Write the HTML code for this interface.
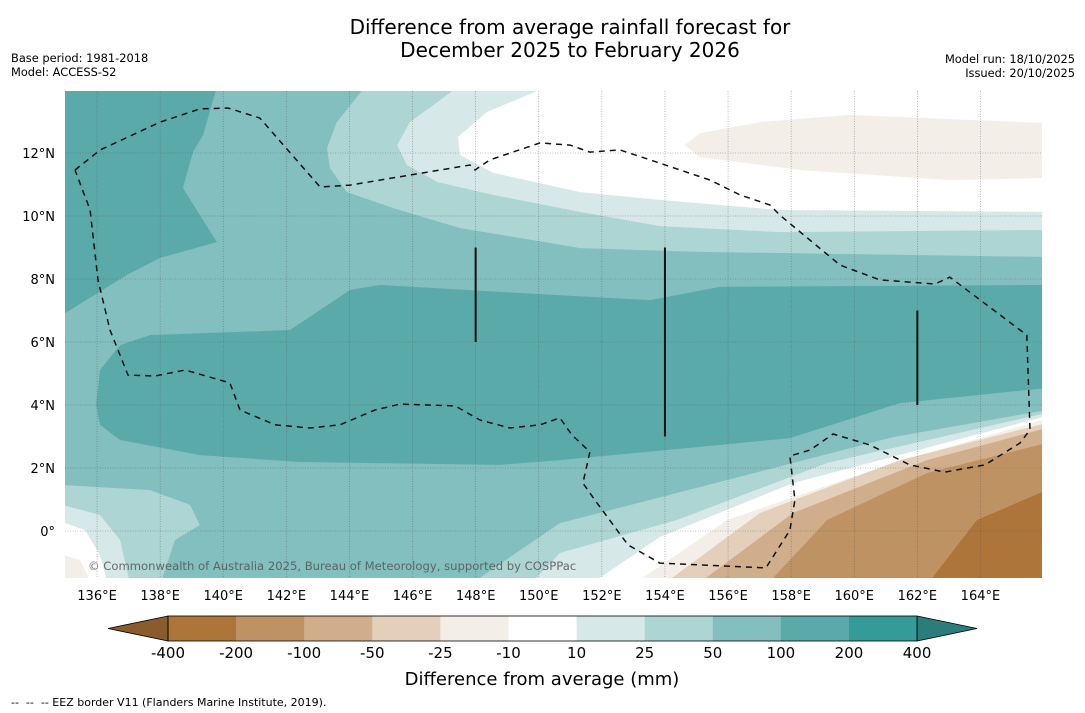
<!DOCTYPE html>
<html><head><meta charset="utf-8">
<style>
html,body{margin:0;padding:0;background:#fff;}
svg{display:block;font-family:"DejaVu Sans","Liberation Sans",sans-serif;}
</style></head>
<body>
<svg id="chart" width="1085" height="713" viewBox="0 0 1085 713">
<rect width="1085" height="713" fill="#fff"/>
<text x="570" y="34" font-size="20" text-anchor="middle" fill="#000">Difference from average rainfall forecast for</text>
<text x="570" y="57" font-size="20" text-anchor="middle" fill="#000">December 2025 to February 2026</text>
<text x="11" y="62" font-size="11.4">Base period: 1981-2018</text>
<text x="11" y="76" font-size="11.4">Model: ACCESS-S2</text>
<text x="1075" y="63" font-size="11.4" text-anchor="end">Model run: 18/10/2025</text>
<text x="1075" y="77" font-size="11.4" text-anchor="end">Issued: 20/10/2025</text>
<defs><clipPath id="mapclip"><rect x="65" y="91" width="977" height="487"/></clipPath></defs>
<g id="map" clip-path="url(#mapclip)"></g>
<g id="axes"></g>
<g id="cbar"></g>
<text x="542" y="685" font-size="18" text-anchor="middle">Difference from average (mm)</text>
<text x="11" y="706" font-size="11" xml:space="preserve">--  --  -- EEZ border V11 (Flanders Marine Institute, 2019).</text>
</svg>
<script>
// ---- data ----
const lonTicks = [136,138,140,142,144,146,148,150,152,154,156,158,160,162,164];
const latTicks = [0,2,4,6,8,10,12];
const levels = [-400,-200,-100,-50,-25,-10,10,25,50,100,200,400];
const levelColors = ["#ad7539","#bf9263","#d1ae8b","#e3cfba","#f3eee8","#ffffff","#d6e9e8","#acd5d4","#83bfbe","#5aaaaa","#349b98"];
const extendColors = ["#8a5c2c","#2a7d7a"];
// contour polygons [lon,lat]
const hiTopLeft = [[134.9,14.1],[139.8,14.1],[139.36,12.57],[139.04,12.03],[138.72,10.89],[139.8,9.17],[138.0,8.67],[136.95,8.13],[134.9,6.86]];
const hiBand = [[135.97,4.0],[136.09,5.11],[136.73,5.9],[137.68,6.22],[142.12,6.38],[144.02,7.65],[144.97,7.81],[148.77,7.59],[153.53,7.33],[155.74,7.75],[166.1,7.81],[166.1,4.54],[161.45,4.06],[157.96,2.95],[155.11,2.67],[150.67,2.25],[148.77,2.1],[142.43,2.19],[139.26,2.41],[136.73,2.89],[136.09,3.37]];
const top25 = [[144.49,14.1],[143.6,12.98],[143.29,12.16],[143.38,11.52],[143.92,10.76],[145.38,10.25],[147.5,9.62],[151.31,8.98],[155.11,8.86],[166.1,8.7],[166.1,14.1]];
const top10 = [[147.44,14.1],[145.92,12.98],[145.51,12.25],[145.82,11.62],[146.78,11.08],[148.55,10.67],[151.31,10.13],[153.84,9.68],[157.64,9.49],[166.1,9.56],[166.1,14.1]];
const topWhite = [[150.26,14.1],[148.36,13.3],[147.44,12.51],[147.5,11.94],[148.55,11.37],[151.31,10.76],[153.84,10.51],[157.64,10.19],[166.1,10.13],[166.1,14.1]];
const topTan = [[154.63,12.25],[155.11,12.63],[157.01,12.98],[159.86,13.21],[166.1,12.95],[166.1,11.21],[163.03,11.14],[158.28,11.46],[155.11,11.87]];
const br25 = [[147.82,-1.7],[150.67,0.25],[155.97,1.62],[161.23,2.98],[166.1,3.84]];
const br10 = [[149.72,-1.7],[150.67,-0.7],[154.38,0.35],[159.14,2.16],[166.1,3.75]];
const brWhite = [[151.62,-1.7],[153.84,-0.19],[158.06,1.52],[166.1,3.65]];
const brM10 = [[152.99,-1.7],[155.97,0.35],[161.23,2.16],[166.1,3.56]];
const brM25 = [[153.94,-1.7],[157.01,0.57],[161.45,2.25],[166.1,3.43]];
const brM50 = [[155.02,-1.7],[158.06,0.57],[162.31,2.25],[166.1,3.27]];
const brM100 = [[157.23,-1.7],[159.14,0.35],[162.31,1.84],[166.1,2.79]];
const brM200 = [[162.31,-1.7],[163.89,0.35],[166.1,1.3]];
const bl25 = [[134.9,1.46],[137.68,1.3],[138.95,0.83],[139.26,0.19],[138.47,-0.29],[138.0,-1.7],[134.9,-1.7]];
const bl10 = [[134.9,0.83],[136.09,0.51],[136.73,-0.29],[137.05,-1.7],[134.9,-1.7]];
const blWhite = [[134.9,0.29],[135.62,0.03],[136.09,-0.76],[136.35,-1.7],[134.9,-1.7]];
const blTan = [[134.9,-0.76],[135.46,-0.92],[135.84,-1.7],[134.9,-1.7]];
const eez = [[135.3,11.46],[136.1,12.1],[138.0,12.98],[139.26,13.4],[140.15,13.43],[141.16,13.11],[143.07,10.92],[144.02,10.98],[147.82,11.62],[147.98,11.46],[148.45,11.78],[150.04,12.32],[150.99,12.25],[151.62,12.03],[152.57,12.1],[153.53,11.78],[155.43,11.14],[156.38,10.67],[157.33,10.35],[157.64,10.03],[159.55,8.44],[160.81,7.97],[162.56,7.84],[163.03,8.06],[165.47,6.22],[165.57,3.21],[165.25,2.79],[164.14,2.1],[162.87,1.87],[161.76,2.1],[160.5,2.73],[159.33,3.08],[158.6,2.57],[157.96,2.38],[158.12,0.98],[157.96,0.03],[157.2,-1.17],[153.84,-1.02],[152.83,-0.44],[151.78,0.98],[151.4,1.52],[151.62,2.51],[151.05,3.05],[150.67,3.59],[150.04,3.37],[149.09,3.27],[148.14,3.52],[147.35,3.97],[145.6,4.03],[144.81,3.84],[143.7,3.37],[142.75,3.27],[141.64,3.37],[140.53,3.84],[140.21,4.7],[138.79,5.11],[137.84,4.92],[136.98,4.95],[136.41,6.38],[136.03,7.97],[135.78,10.19],[135.3,11.46]];
const vlines = [[148,6,9],[154,3,9],[162,4,7]];

// ---- axes functions ----
const X0=65.5, Y0=531, SX=31.55, SY=31.5;
function px(lon){return X0+(lon-135)*SX;}
function py(lat){return Y0-lat*SY;}
const NS="http://www.w3.org/2000/svg";
function mk(tag,attrs,parent){const e=document.createElementNS(NS,tag);for(const k in attrs)e.setAttribute(k,attrs[k]);parent.appendChild(e);return e;}
function ptsStr(arr){return arr.map(p=>px(p[0]).toFixed(1)+","+py(p[1]).toFixed(1)).join(" ");}
const map=document.getElementById("map");
const axes=document.getElementById("axes");
const cbar=document.getElementById("cbar");

let bg=mk("rect",{x:65,y:91,width:977,height:487,fill:levelColors[8]},map);



function poly(arr,ci,name){const p=mk("polygon",{points:ptsStr(arr),fill:levelColors[ci]},map);

}
function brPoly(arr,ci,name){poly(arr.concat([[166.1,-1.7]]),ci,name);}

poly(hiTopLeft,9,"region-100-200-northwest");
poly(hiBand,9,"region-100-200-band");
poly(top25,7,"region-25-50-north");
poly(top10,6,"region-10-25-north");
poly(topWhite,5,"region-neutral-north");
poly(topTan,4,"region-minus10-25-northeast");
poly(bl25,7,"region-25-50-southwest");
poly(bl10,6,"region-10-25-southwest");
poly(blWhite,5,"region-neutral-southwest");
poly(blTan,4,"region-minus10-25-southwest");
brPoly(br25,7,"region-25-50-southeast");
brPoly(br10,6,"region-10-25-southeast");
brPoly(brWhite,5,"region-neutral-southeast");
brPoly(brM10,4,"region-minus10-25-southeast");
brPoly(brM25,3,"region-minus25-50-southeast");
brPoly(brM50,2,"region-minus50-100-southeast");
brPoly(brM100,1,"region-minus100-200-southeast");
brPoly(brM200,0,"region-minus200-400-southeast");

// gridlines
lonTicks.forEach(l=>{const g=mk("line",{x1:px(l),x2:px(l),y1:91,y2:578,stroke:"#555","stroke-width":0.6,"stroke-dasharray":"1,1.5","stroke-opacity":0.7},map);

});
latTicks.forEach(l=>{const g=mk("line",{x1:65,x2:1042,y1:py(l),y2:py(l),stroke:"#555","stroke-width":0.6,"stroke-dasharray":"1,1.5","stroke-opacity":0.7},map);

});

// EEZ
const ez=mk("polyline",{points:ptsStr(eez),fill:"none",stroke:"#111","stroke-width":1.5,"stroke-dasharray":"6,5"},map);


vlines.forEach(v=>{const l=mk("line",{x1:px(v[0]),x2:px(v[0]),y1:py(v[2]),y2:py(v[1]),stroke:"#111","stroke-width":2},map);

});

const cp=mk("text",{x:88,y:570,"font-size":11.6,fill:"#555","fill-opacity":0.85},map);
cp.textContent="© Commonwealth of Australia 2025, Bureau of Meteorology, supported by COSPPac";



// tick labels
lonTicks.forEach(l=>{const t=mk("text",{x:px(l),y:600,"font-size":13,"text-anchor":"middle"},axes);t.textContent=l+"°E";

});
latTicks.forEach(l=>{const t=mk("text",{x:55,y:py(l)+5,"font-size":13,"text-anchor":"end"},axes);t.textContent=(l===0?"0°":l+"°N");

});

// colorbar
const CB0=168, CBW=68.1, CBY=616, CBH=25;
function cbx(i){return CB0+i*CBW;}
const nSeg=levelColors.length;
for(let i=0;i<nSeg;i++){const r=mk("rect",{x:cbx(i),y:CBY,width:CBW+0.3,height:CBH,fill:levelColors[i]},cbar);

}
const tl=mk("polygon",{points:`${cbx(0)},${CBY} ${cbx(0)-60},${CBY+CBH/2} ${cbx(0)},${CBY+CBH}`,fill:extendColors[0],stroke:"#000","stroke-width":0.8},cbar);


const tr=mk("polygon",{points:`${cbx(nSeg)},${CBY} ${cbx(nSeg)+60},${CBY+CBH/2} ${cbx(nSeg)},${CBY+CBH}`,fill:extendColors[1],stroke:"#000","stroke-width":0.8},cbar);


const ob=mk("rect",{x:cbx(0),y:CBY,width:cbx(nSeg)-cbx(0),height:CBH,fill:"none",stroke:"#000","stroke-width":0.8},cbar);


levels.forEach((v,i)=>{const t=mk("text",{x:cbx(i),y:CBY+CBH+17,"font-size":15,"text-anchor":"middle"},cbar);t.textContent=v;

});
</script>
</body></html>
